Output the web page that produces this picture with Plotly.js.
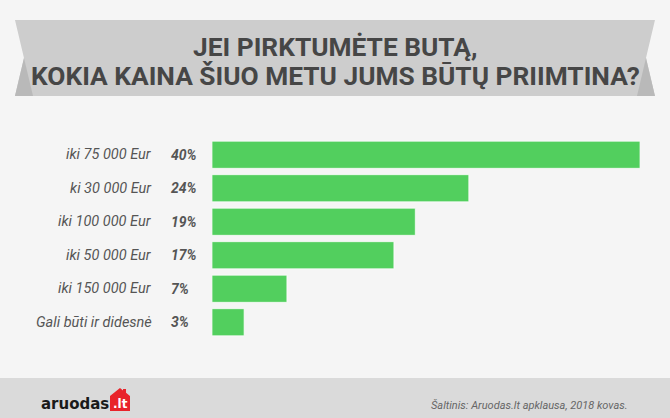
<!DOCTYPE html>
<html><head><meta charset="utf-8">
<script src="https://cdn.plot.ly/plotly-3.0.1.min.js"></script>
<style>html,body{margin:0;padding:0;background:#f5f5f5}#c{width:670px;height:418px}</style>
</head><body><div id="c"></div>
<script>
const categories = ["iki 75 000 Eur","ki 30 000 Eur","iki 100 000 Eur","iki 50 000 Eur","iki 150 000 Eur","Gali būti ir didesnė"];
const values = [40,24,19,17,7,3];
const pctLabels = values.map(v => v + "%");
const titleLines = ["JEI PIRKTUMĖTE BUTĄ,","KOKIA KAINA ŠIUO METU JUMS BŪTŲ PRIIMTINA?"];
const sourceText = "Šaltinis: Aruodas.lt apklausa, 2018 kovas.";

const W=670,H=418,L=212,R=30,T=138,B=79;
const PW=W-L-R, PH=H-T-B;
const X = px => (px-L)/PW;
const Y = py => (H-B-py)/PH;
const P = (pts) => 'M' + pts.map(p => X(p[0]).toFixed(4)+','+Y(p[1]).toFixed(4)).join(' L') + ' Z';

const shapes = [
  {type:'rect',xref:'paper',yref:'paper',x0:X(0),x1:X(670),y0:Y(378),y1:Y(420),fillcolor:'#dadada',line:{width:0},layer:'below'},
  {type:'path',xref:'paper',yref:'paper',path:P([[15,20],[655,20],[646,58],[655,96],[15,96],[24,58]]),fillcolor:'#cdcdcd',line:{width:0},layer:'below'},
  {type:'path',xref:'paper',yref:'paper',path:P([[24,58],[15,96],[33,96]]),fillcolor:'#b9b9b9',line:{width:0},layer:'below'},
  {type:'path',xref:'paper',yref:'paper',path:P([[646,58],[655,96],[637,96]]),fillcolor:'#b9b9b9',line:{width:0},layer:'below'},
  {type:'path',xref:'paper',yref:'paper',path:P([[110,396],[120,388],[123,390.4],[123,389],[126,389],[126,392.8],[130,396],[130,411],[110,411]]),fillcolor:'#e8232a',line:{width:0}}
];

const annotations = [];
titleLines.forEach((t,i)=>annotations.push({xref:'paper',yref:'paper',x:X(335),y:Y(i===0?47:76),xanchor:'center',yanchor:'middle',showarrow:false,text:t,font:{family:'"Liberation Sans Narrow", "Roboto", sans-serif',size:26.3,weight:700,color:'#464646'}}));
categories.forEach((c,i)=>{
  annotations.push({xref:'paper',yref:'y',x:X(154),y:c,xanchor:'right',yanchor:'middle',showarrow:false,text:c,font:{family:'Roboto, sans-serif',size:14.5,style:'italic',color:'#555'}});
  annotations.push({xref:'paper',yref:'y',x:X(169),y:c,xanchor:'left',yanchor:'middle',showarrow:false,text:pctLabels[i],font:{family:'Roboto, sans-serif',size:14,style:'italic',weight:700,color:'#555'}});
});
annotations.push({xref:'paper',yref:'paper',x:X(39),y:Y(404),xanchor:'left',yanchor:'middle',showarrow:false,text:'aruodas',font:{family:'"DejaVu Sans", sans-serif',size:15,weight:700,color:'#1a1a1a'}});
annotations.push({xref:'paper',yref:'paper',x:X(120),y:Y(404),xanchor:'center',yanchor:'middle',showarrow:false,text:'.lt',font:{family:'"DejaVu Sans", sans-serif',size:12,weight:700,color:'#ffffff'}});
annotations.push({xref:'paper',yref:'paper',x:X(630),y:Y(405),xanchor:'right',yanchor:'middle',showarrow:false,text:sourceText,font:{family:'"Liberation Sans Narrow", Roboto, sans-serif',size:11,style:'italic',color:'#666'}});

const trace = {type:'bar',orientation:'h',x:values,y:categories,marker:{color:'#52cf5e',line:{color:'rgba(255,255,255,0.7)',width:1}},hoverinfo:'none'};

const layout = {
  width:W,height:H,margin:{l:L,r:R,t:T,b:B,pad:0},
  paper_bgcolor:'#f5f5f5',plot_bgcolor:'rgba(0,0,0,0)',
  showlegend:false,bargap:0.19,
  xaxis:{range:[0,40],visible:false,fixedrange:true},
  yaxis:{autorange:'reversed',showticklabels:false,showgrid:false,zeroline:false,showline:false,ticks:''},
  shapes:shapes,annotations:annotations
};
Plotly.newPlot('c',[trace],layout,{staticPlot:true,displayModeBar:false});
</script></body></html>
